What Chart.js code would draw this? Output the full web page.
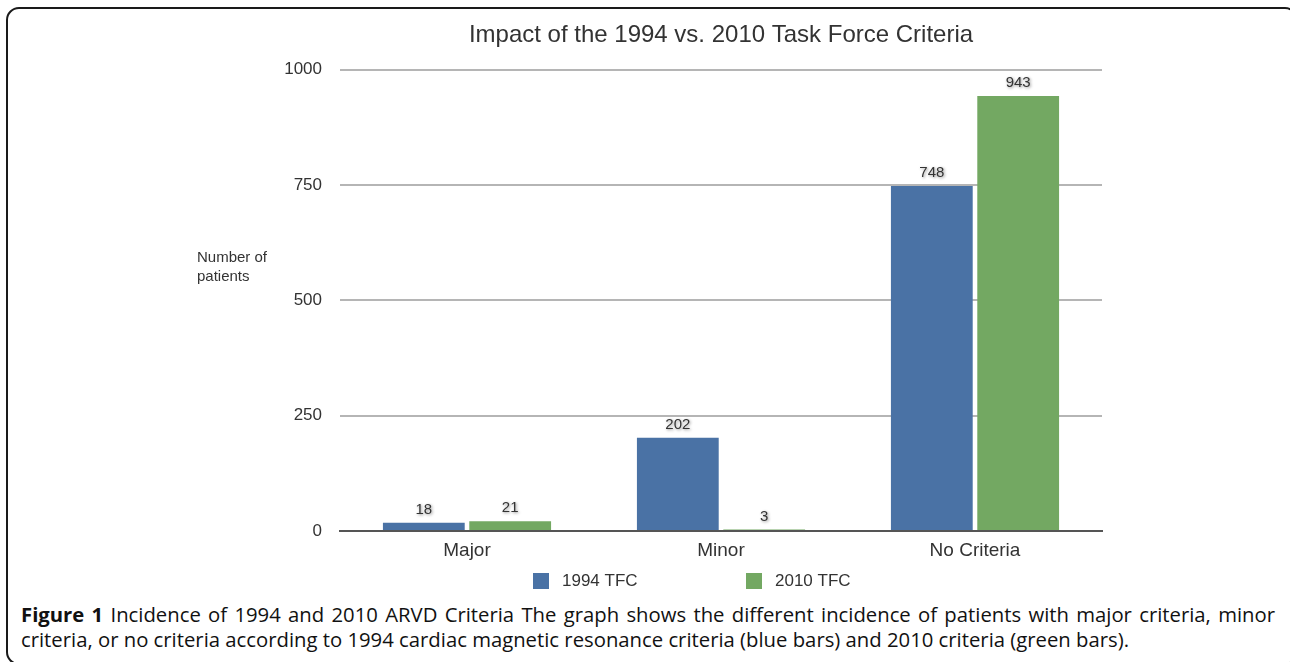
<!DOCTYPE html>
<html>
<head>
<meta charset="utf-8">
<script src="https://cdn.jsdelivr.net/npm/chart.js@4"></script>
<style>
  body { margin: 0; background: #fff; width: 1290px; height: 662px; overflow: hidden; position: relative; }
  #frame { position: absolute; left: 6px; top: 7px; width: 1288px; height: 654px;
           border: 2px solid #1a1a1a; border-radius: 13px; }
  #wrap { position: absolute; left: 0; top: 0; width: 1290px; height: 600px; }
  #caption { position: absolute; left: 21px; top: 602px; width: 1255px;
             font-family: "Open Sans", sans-serif; font-size: 20.3px; line-height: 25px; color: #111; }
  #caption .l1 { display: inline-block; white-space: nowrap; }
  #caption .l2 { display: block; white-space: nowrap; }
</style>
</head>
<body>
<div id="frame"></div>
<div id="wrap"><canvas id="chart"></canvas></div>
<div id="caption"><span class="l1" id="line1"><b>Figure 1</b> Incidence of 1994 and 2010 ARVD Criteria The graph shows the different incidence of patients with major criteria, minor</span><span class="l2">criteria, or no criteria according to 1994 cardiac magnetic resonance criteria (blue bars) and 2010 criteria (green bars).</span></div>
<script>
var categories = ["Major", "Minor", "No Criteria"];
var tfc1994 = [18, 202, 748];
var tfc2010 = [21, 3, 943];
var yTicks = [0, 250, 500, 750, 1000];

var blue = "#4a72a5";
var green = "#73a862";
var font = "'Liberation Sans', Arial, sans-serif";

// fit caption line 1 to the full width by adjusting word spacing
(function() {
  var l1 = document.getElementById("line1");
  var spaces = l1.textContent.split(" ").length - 1;
  var extra = (1254 - l1.getBoundingClientRect().width) / spaces;
  l1.style.wordSpacing = extra + "px";
})();

// value labels above bars, with a soft shadow like the original
var valueLabels = {
  id: "valueLabels",
  afterDatasetsDraw: function(chart) {
    var ctx = chart.ctx;
    ctx.save();
    ctx.font = "15px " + font;
    ctx.fillStyle = "#333";
    ctx.textAlign = "center";
    ctx.textBaseline = "middle";
    ctx.shadowColor = "rgba(0,0,0,0.45)";
    ctx.shadowBlur = 3;
    ctx.shadowOffsetX = 1;
    ctx.shadowOffsetY = 1;
    chart.data.datasets.forEach(function(ds, i) {
      chart.getDatasetMeta(i).data.forEach(function(bar, j) {
        ctx.fillText(ds.data[j], bar.x, bar.y - 13);
      });
    });
    ctx.restore();
  }
};

// y axis caption + legend with the wide spacing of the original
var extras = {
  id: "extras",
  afterDraw: function(chart) {
    var ctx = chart.ctx;
    ctx.save();
    ctx.font = "15px " + font;
    ctx.fillStyle = "#333";
    ctx.textAlign = "left";
    ctx.textBaseline = "middle";
    ctx.fillText("Number of", 197, 258);
    ctx.fillText("patients", 197, 277);

    var x = 533, y = 581;
    ctx.font = "17px " + font;
    chart.data.datasets.forEach(function(ds) {
      ctx.fillStyle = ds.backgroundColor;
      ctx.fillRect(x, y - 8, 16, 16);
      ctx.fillStyle = "#333";
      ctx.fillText(ds.label, x + 29, y);
      x += 213;
    });
    ctx.restore();
  }
};

new Chart(document.getElementById("chart"), {
  type: "bar",
  data: {
    labels: categories,
    datasets: [
      { label: "1994 TFC", data: tfc1994, backgroundColor: blue },
      { label: "2010 TFC", data: tfc2010, backgroundColor: green }
    ]
  },
  options: {
    responsive: true,
    maintainAspectRatio: false,
    animation: false,
    layout: { padding: { left: 0, right: 188, top: 0, bottom: 29 } },
    datasets: { bar: { categoryPercentage: 0.68, barPercentage: 0.947 } },
    plugins: {
      title: {
        display: true,
        fullSize: false,
        text: "Impact of the 1994 vs. 2010 Task Force Criteria",
        color: "#333",
        font: { family: font, size: 24, weight: "normal" },
        padding: { top: 21, bottom: 20 }
      },
      legend: { display: false },
      tooltip: { enabled: false }
    },
    scales: {
      x: {
        afterFit: function(scale) { scale.height = 40; },
        grid: { display: false, drawTicks: false },
        border: { color: "#555", width: 2 },
        ticks: { color: "#333", padding: 8, font: { family: font, size: 19 } }
      },
      y: {
        min: 0, max: 1000,
        afterBuildTicks: function(scale) { scale.ticks = yTicks.map(function(v) { return { value: v }; }); },
        afterFit: function(scale) { scale.width = 340; },
        grid: { color: "#b5b5b5", lineWidth: 2, drawTicks: false },
        border: { display: false },
        ticks: {
          color: "#333", padding: 18, font: { family: font, size: 17 },
          callback: function(v) { return String(v); }
        }
      }
    }
  },
  plugins: [valueLabels, extras]
});
</script>
</body>
</html>
